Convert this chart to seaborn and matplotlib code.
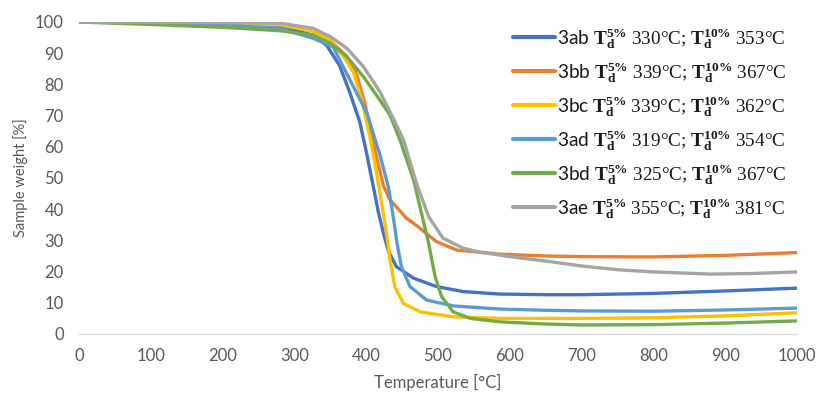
import matplotlib
matplotlib.use("Agg")
import matplotlib.pyplot as plt
import seaborn as sns
import pandas as pd

# ---- data ----
names = ["3ab", "3bb", "3bc", "3ad", "3bd", "3ae"]
td5 = [330, 339, 339, 319, 325, 355]
td10 = [353, 367, 362, 354, 367, 381]
colors = ["#4472C4", "#ED7D31", "#FFC000", "#5B9BD5", "#70AD47", "#A5A5A5"]

t_3ab = [0, 100, 200, 280, 326, 345, 363, 377, 391, 400, 408, 417, 424, 431, 442, 466, 498, 535, 586, 650, 700, 800, 900, 1000]
w_3ab = [100, 99.7, 99.3, 98.6, 95.8, 92.5, 86, 77.5, 68, 58.5, 49.4, 39, 32.3, 26.5, 21.6, 17.9, 15.2, 13.6, 12.8, 12.6, 12.6, 13.0, 13.8, 14.7]

t_3bb = [0, 100, 200, 280, 326, 350, 373, 387, 398, 412, 424, 433, 445, 456, 466, 498, 526, 586, 650, 700, 800, 900, 1000]
w_3bb = [100, 99.8, 99.5, 99.2, 97.5, 94, 89, 83, 74, 59, 47.5, 43, 40, 37.1, 35.5, 29.6, 26.9, 25.6, 25.0, 24.8, 24.7, 25.2, 26.1]

t_3bc = [0, 100, 200, 280, 326, 350, 370, 382, 394, 408, 417, 425, 429, 433, 440, 452, 475, 521, 586, 700, 800, 900, 1000]
w_3bc = [100, 99.8, 99.5, 99.1, 97, 94, 88.5, 84, 75, 60, 48, 37, 31, 24, 15, 9.8, 7.1, 5.5, 5.0, 5.0, 5.2, 5.8, 6.8]

t_3ad = [0, 100, 200, 280, 326, 354, 375, 401, 419, 431, 438, 443, 449, 461, 484, 521, 586, 650, 700, 800, 900, 1000]
w_3ad = [100, 99.6, 99.1, 97.9, 94.8, 92, 82.5, 70.8, 57.5, 47, 37, 29, 21.6, 15.2, 10.9, 9.0, 8.0, 7.6, 7.4, 7.3, 7.7, 8.3]

t_3bd = [0, 100, 200, 280, 326, 350, 373, 396, 419, 433, 447, 466, 477, 486, 496, 505, 521, 545, 586, 650, 700, 800, 900, 1000]
w_3bd = [100, 99.2, 98.3, 97.2, 95.8, 93.2, 88.9, 82.5, 75, 70.2, 62.2, 49.4, 38.7, 30.1, 18.4, 12, 7.1, 5.0, 3.9, 3.2, 2.9, 3.0, 3.5, 4.2]

t_3ae = [0, 100, 200, 280, 326, 350, 373, 396, 419, 438, 452, 470, 487, 507, 535, 560, 600, 656, 700, 750, 800, 880, 940, 1000]
w_3ae = [100, 99.9, 99.8, 99.6, 98, 95.3, 91.6, 85.7, 77.7, 69, 62.2, 48.3, 37.6, 30.7, 27.5, 26.2, 24.8, 23.2, 21.8, 20.6, 19.9, 19.2, 19.4, 19.9]

x_ticks = list(range(0, 1001, 100))
y_ticks = list(range(0, 101, 10))

temps = [t_3ab, t_3bb, t_3bc, t_3ad, t_3bd, t_3ae]
weights = [w_3ab, w_3bb, w_3bc, w_3ad, w_3bd, w_3ae]

# ---- style ----
sns.set_style("white")
plt.rcParams["font.family"] = ["Lato", "DejaVu Sans"]
plt.rcParams["mathtext.fontset"] = "custom"
plt.rcParams["mathtext.rm"] = "Liberation Serif"
plt.rcParams["mathtext.bf"] = "Liberation Serif:bold"
plt.rcParams["mathtext.it"] = "Liberation Serif:italic"
plt.rcParams["mathtext.sf"] = "Lato"

fig, ax = plt.subplots(figsize=(8.17, 3.94), dpi=100)
fig.subplots_adjust(left=79/817, right=797/817, top=1-22/394, bottom=1-334/394)

for n, a, b, c, t, w in zip(names, td5, td10, colors, temps, weights):
    df = pd.DataFrame({"T": t, "W": w})
    lab = (r"$\mathsf{%s}$ $\mathbf{T_d^{5\%%}}$ %d°C; $\mathbf{T_d^{10\%%}}$ %d°C"
           % (n, a, b))
    sns.lineplot(data=df, x="T", y="W", color=c, lw=2.4, label=lab, ax=ax,
                 sort=False, solid_capstyle="round", solid_joinstyle="round")

ax.set_xlim(0, 1000)
ax.set_ylim(0, 100)
ax.set_xticks(x_ticks)
ax.set_yticks(y_ticks)
ax.tick_params(axis="both", length=0, labelsize=12, labelcolor="#595959")
ax.tick_params(axis="y", pad=11)
ax.tick_params(axis="x", pad=10)
for s in ["top", "right", "left"]:
    ax.spines[s].set_visible(False)
ax.spines["bottom"].set_color("#d9d9d9")
ax.spines["bottom"].set_linewidth(1)

ax.set_xlabel("Temperature [°C]", fontsize=12, color="#595959", labelpad=7)
ax.set_ylabel("Sample weight [%]", fontsize=10.5, color="#595959", labelpad=5)

leg = ax.legend(loc="upper left", bbox_to_anchor=(513/817, 1-26/394),
                bbox_transform=fig.transFigure, frameon=False,
                prop={"family": "Liberation Serif", "size": 13.8},
                handlelength=2.2, handletextpad=0.12, labelspacing=0.49,
                borderpad=0, borderaxespad=0)
for txt in leg.get_texts():
    txt.set_color("#1a1a1a")
for h in leg.get_lines():
    h.set_linewidth(3)

fig.savefig("out.png", dpi=100)
